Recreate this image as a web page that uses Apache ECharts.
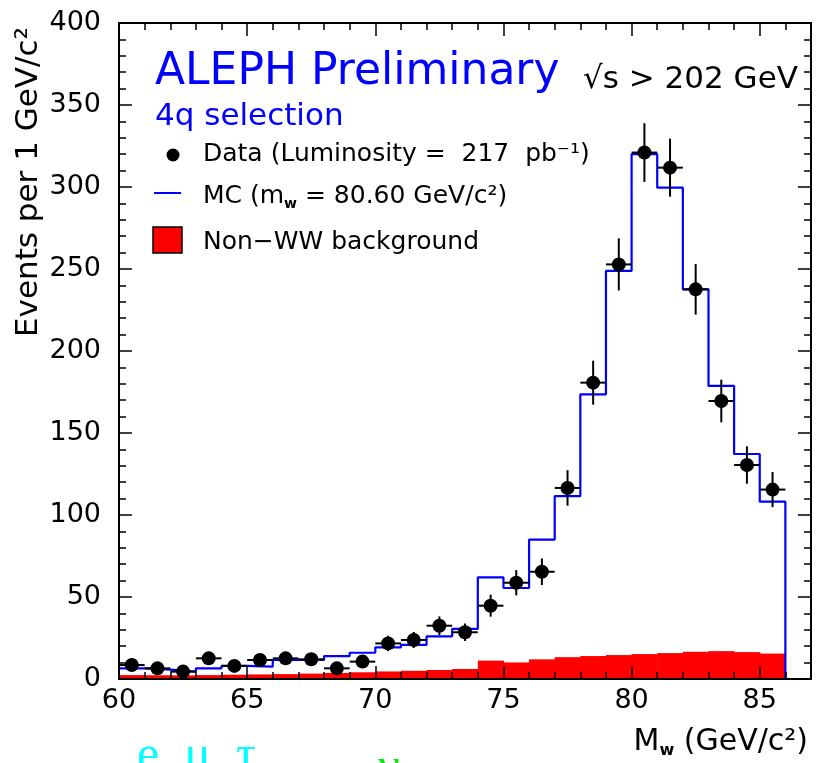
<!DOCTYPE html>
<html><head><meta charset="utf-8">
<script src="https://cdn.jsdelivr.net/npm/echarts@6/dist/echarts.min.js"></script>
<style>html,body{margin:0;padding:0;background:#fff}#c{width:825px;height:763px}</style>
</head><body><div id="c"></div>
<script>
// ---- data ----
const binLow = [60,61,62,63,64,65,66,67,68,69,70,71,72,73,74,75,76,77,78,79,80,81,82,83,84,85];
const binWidth = 1;
const dataValues = [8.5,6.5,4.5,12.6,8.0,11.6,12.6,12.0,6.5,10.6,21.7,23.8,32.5,28.5,44.7,58.7,65.4,116.5,180.7,252.8,321.0,311.8,237.6,169.5,130.5,115.5];
const dataErrors = [2.9,2.5,2.1,3.5,2.8,3.4,3.5,3.5,2.5,3.3,4.7,4.9,5.7,5.3,6.7,7.7,8.1,10.8,13.4,15.9,17.9,17.7,15.4,13.0,11.4,10.7];
const mcValues = [6.5,5.7,4.5,6.5,8.0,7.6,11.6,11.6,14.0,16.0,19.3,20.8,26.0,30.6,62.0,55.5,85.0,111.5,173.6,248.8,320.0,299.6,237.6,178.7,137.2,108.1];
const bkgValues = [2.4,2.3,2.2,2.4,2.6,2.8,3.0,3.3,3.7,4.1,4.6,5.0,5.5,6.1,11.2,10.1,12.0,13.3,14.0,14.6,15.2,15.8,16.6,17.0,16.4,15.5];
const xTickLabels = [60,65,70,75,80,85];
const yTickLabels = [0,50,100,150,200,250,300,350,400];

const FONT = 'DejaVu Sans';
const chart = echarts.init(document.getElementById('c'), null, {renderer:'canvas'});

const bkgData = binLow.map((x,i)=>[x, x+binWidth, bkgValues[i]]);
const lastEdge = binLow[binLow.length-1] + binWidth;
const mcData = binLow.map((x,i)=>[x, mcValues[i]]).concat([[lastEdge, 0]]);
const ptsData = binLow.map((x,i)=>[x+binWidth/2, dataValues[i], dataErrors[i]]);

const black = '#000';
function xAx(pos, interval, len, showLine, showLabel){
  return {type:'value', min:60, max:87, interval:interval, position:pos, z:10,
    axisLine:{show:showLine, onZero:false, lineStyle:{color:black, width:2}},
    axisTick:{show:true, inside:true, length:len, lineStyle:{color:black, width:1.5}},
    splitLine:{show:false},
    axisLabel:{show:showLabel, margin:8, color:black, fontFamily:FONT, fontSize:27,
      formatter:v=> xTickLabels.indexOf(v)>=0 ? String(v) : ''}};
}
function yAx(pos, showLabel){
  return {type:'value', min:0, max:400, interval:50, position:pos, z:10,
    axisLine:{show:true, onZero:false, lineStyle:{color:black, width:2}},
    axisTick:{show:true, inside:true, length:13, lineStyle:{color:black, width:1.5}},
    minorTick:{show:true, splitNumber:5, length:7, lineStyle:{color:black, width:1.5}},
    splitLine:{show:false}, minorSplitLine:{show:false},
    axisLabel:{show:showLabel, margin:18, color:black, fontFamily:FONT, fontSize:27,
      formatter:v=> yTickLabels.indexOf(v)>=0 ? String(v) : ''}};
}

const option = {
  animation:false,
  backgroundColor:'#fff',
  grid:{left:119, right:14, top:23, bottom:84, containLabel:false},
  xAxis:[ xAx('bottom',1,7,true,true), xAx('bottom',5,13,false,false), xAx('top',1,7,true,false), xAx('top',5,13,false,false) ],
  yAxis:[ yAx('left',true), yAx('right',false) ],
  series:[
    {type:'custom', xAxisIndex:0, yAxisIndex:0, data:bkgData, z:2,
      renderItem:(params, api)=>{
        const p0 = api.coord([api.value(0), api.value(2)]);
        const p1 = api.coord([api.value(1), 0]);
        return {type:'rect', shape:{x:p0[0], y:p0[1], width:p1[0]-p0[0]+0.6, height:p1[1]-p0[1]},
          style:{fill:'#ff0000'}};
      }},
    {type:'line', xAxisIndex:0, yAxisIndex:0, data:mcData, step:'end', showSymbol:false, symbol:'none', z:3,
      lineStyle:{color:'#0000ff', width:2.2, opacity:1}},
    {type:'custom', xAxisIndex:0, yAxisIndex:0, data:ptsData, z:4,
      renderItem:(params, api)=>{
        const x = api.value(0), y = api.value(1), e = api.value(2);
        const top = api.coord([x, y+e]), bot = api.coord([x, y-e]);
        const l = api.coord([x-binWidth/2, y]), r = api.coord([x+binWidth/2, y]);
        return {type:'group', children:[
          {type:'line', shape:{x1:top[0], y1:top[1], x2:bot[0], y2:bot[1]}, style:{stroke:black, lineWidth:2}},
          {type:'line', shape:{x1:l[0], y1:l[1], x2:r[0], y2:r[1]}, style:{stroke:black, lineWidth:2}}
        ]};
      }},
    {type:'scatter', xAxisIndex:0, yAxisIndex:0, data:ptsData.map(d=>[d[0], d[1]]), symbol:'circle', symbolSize:14, z:5,
      itemStyle:{color:black, opacity:1}}
  ],
  graphic:[
    {type:'text', x:155, y:73, z:20, style:{text:'ALEPH Preliminary', font:'44px "DejaVu Sans"', fill:'#0000ff', textAlign:'left', textVerticalAlign:'middle'}},
    {type:'text', x:583, y:80, z:20, style:{text:'\u221As > 202 GeV', font:'31px "DejaVu Sans"', fill:black, textAlign:'left', textVerticalAlign:'middle'}},
    {type:'text', x:155, y:117, z:20, style:{text:'4q selection', font:'31px "DejaVu Sans"', fill:'#0000ff', textAlign:'left', textVerticalAlign:'middle'}},
    {type:'circle', z:20, shape:{cx:173, cy:155, r:6.5}, style:{fill:black}},
    {type:'text', x:203, y:154, z:20, style:{text:'Data (Luminosity =  217  pb\u207B\u00B9)', font:'25px "DejaVu Sans"', fill:black, textAlign:'left', textVerticalAlign:'middle'}},
    {type:'line', z:20, shape:{x1:154, y1:193, x2:181, y2:193}, style:{stroke:'#0000ff', lineWidth:2}},
    {type:'text', x:203, y:196, z:20, style:{text:'{a|MC (m}{s|w}{a| = 80.60 GeV/c\u00B2)}', textAlign:'left', textVerticalAlign:'middle',
      rich:{a:{font:'25px "DejaVu Sans"', fill:black, lineHeight:30, verticalAlign:'middle'}, s:{font:'bold 14px "DejaVu Sans"', fill:black, lineHeight:14, verticalAlign:'bottom'}}}},
    {type:'rect', z:20, shape:{x:153, y:227, width:29, height:26}, style:{fill:'#ff0000', stroke:black, lineWidth:1.5}},
    {type:'text', x:203, y:242, z:20, style:{text:'Non\u2212WW background', font:'25px "DejaVu Sans"', fill:black, textAlign:'left', textVerticalAlign:'middle'}},
    {type:'text', x:29, y:182, rotation:Math.PI/2, z:20, style:{text:'Events per 1 GeV/c\u00B2', font:'31px "DejaVu Sans"', fill:black, textAlign:'center', textVerticalAlign:'middle'}},
    {type:'text', x:808, y:742, z:20, style:{text:'{a|M}{s|w}{a| (GeV/c\u00B2)}', textAlign:'right', textVerticalAlign:'middle',
      rich:{a:{font:'30px "DejaVu Sans"', fill:black, lineHeight:34, verticalAlign:'middle'}, s:{font:'bold 16px "DejaVu Sans"', fill:black, lineHeight:16, verticalAlign:'bottom'}}}},
    {type:'text', x:137, y:757, z:20, style:{text:'e, \u03BC, \u03C4', font:'50px "Liberation Serif"', fill:'#00ffff', textAlign:'left', textVerticalAlign:'middle'}},
    {type:'text', x:378, y:768, z:20, style:{text:'\u03BD', font:'48px "Liberation Serif"', fill:'#00ee00', textAlign:'left', textVerticalAlign:'middle'}}
  ]
};
chart.setOption(option);
</script></body></html>
